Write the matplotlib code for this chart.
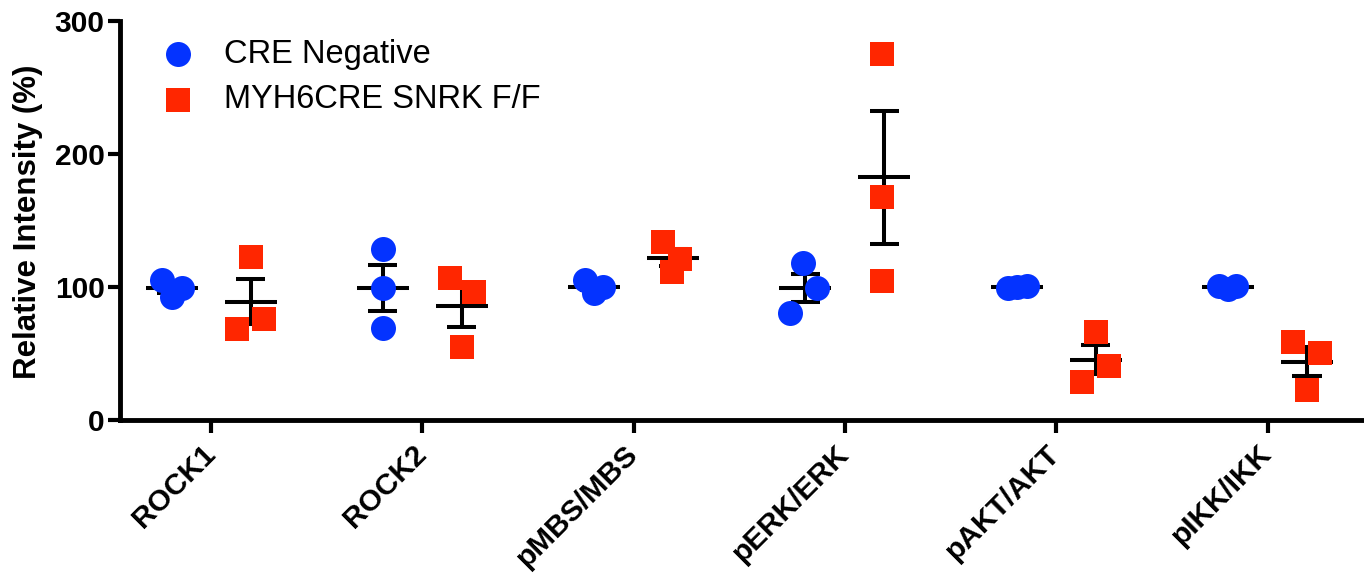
import numpy as np
import matplotlib
matplotlib.use("Agg")
import matplotlib.pyplot as plt
from matplotlib.transforms import ScaledTranslation

plt.rcParams['font.family'] = ['Liberation Sans', 'DejaVu Sans']

categories = ["ROCK1", "ROCK2", "pMBS/MBS", "pERK/ERK", "pAKT/AKT", "pIKK/IKK"]
series_names = ["CRE Negative", "MYH6CRE SNRK F/F"]

cre_negative = [
    [105.3, 92.5, 99.2],
    [128.6, 99.2, 69.2],
    [105.3, 95.5, 100.0],
    [118.0, 99.2, 80.5],
    [99.5, 100.0, 100.5],
    [100.5, 98.8, 100.5],
]
snrk_ff = [
    [122.6, 68.4, 75.9],
    [106.8, 96.2, 54.9],
    [133.8, 121.0, 111.3],
    [275.2, 167.7, 104.5],
    [66.4, 40.8, 28.8],
    [58.6, 50.3, 22.6],
]

# layout: horizontal jitter of individual points (category units)
jitter_blue = [
    [-0.043, 0.0, 0.047],
    [0.0, 0.0, 0.0],
    [-0.043, 0.0, 0.043],
    [-0.01, 0.057, -0.071],
    [-0.043, 0.0, 0.047],
    [-0.043, 0.0, 0.040],
]
jitter_red = [
    [0.0, -0.066, 0.062],
    [-0.057, 0.057, 0.0],
    [-0.047, 0.033, -0.005],
    [-0.01, -0.01, -0.01],
    [0.0, 0.062, -0.066],
    [-0.066, 0.062, 0.0],
]

blue = '#0433ff'
red = '#ff2600'
group_off = 0.187
mean_half = 0.123
cap_half = 0.069
lw = 2.9

fig = plt.figure(figsize=(13.64, 5.75), dpi=100)
ax = fig.add_axes([0.088, 0.2696, 0.9105, 0.694])

def draw_group(values, jit, offset, color, marker, ms):
    for i, vals in enumerate(values):
        v = np.array(vals)
        m = v.mean()
        sem = v.std(ddof=1) / np.sqrt(len(v))
        c = i + offset
        ax.plot([c - mean_half, c + mean_half], [m, m], color='black', lw=lw,
                solid_capstyle='butt', zorder=2)
        ax.plot([c, c], [m - sem, m + sem], color='black', lw=lw,
                solid_capstyle='butt', zorder=2)
        for y in (m - sem, m + sem):
            ax.plot([c - cap_half, c + cap_half], [y, y], color='black', lw=lw,
                    solid_capstyle='butt', zorder=2)
        xs = c + np.array(jit[i])
        ax.plot(xs, v, linestyle='none', marker=marker, ms=ms, color=color,
                markeredgewidth=0, zorder=3, clip_on=False)

draw_group(cre_negative, jitter_blue, -group_off, blue, 'o', 18)
draw_group(snrk_ff, jitter_red, group_off, red, 's', 17)

ax.set_xlim(-0.431, 5.447)
ax.set_ylim(0, 300)
ax.set_yticks([0, 100, 200, 300])
ax.set_xticks(range(len(categories)))

for s in ['top', 'right']:
    ax.spines[s].set_visible(False)
for s in ['left', 'bottom']:
    ax.spines[s].set_linewidth(3.5)
ax.tick_params(axis='both', width=3, length=9, pad=2)
ax.tick_params(axis='x', pad=5)

ax.set_xticklabels(categories, rotation=45, ha='right', rotation_mode='anchor',
                   fontsize=21.5, fontweight='bold')
shift = ScaledTranslation(-10 / 100, 0, fig.dpi_scale_trans)
for lab in ax.xaxis.get_majorticklabels():
    lab.set_transform(lab.get_transform() + shift)
for lab in ax.get_yticklabels():
    lab.set_fontsize(21.5)
    lab.set_fontweight('bold')
ax.set_ylabel("Relative Intensity (%)", fontsize=22.5, fontweight='bold')
ax.yaxis.set_label_coords(-0.062, 0.496)

# legend drawn manually
leg_y = [0.917, 0.802]
leg_markers = [('o', 18, blue), ('s', 17, red)]
for (mk, ms, col), name, yy in zip(leg_markers, series_names, leg_y):
    ax.plot([0.0467], [yy], transform=ax.transAxes, marker=mk, ms=ms, color=col,
            markeredgewidth=0, linestyle='none', clip_on=False)
    ax.text(0.0837, yy, name, transform=ax.transAxes, fontsize=23.5,
            va='center', ha='left')

fig.savefig("out.png", dpi=100)
